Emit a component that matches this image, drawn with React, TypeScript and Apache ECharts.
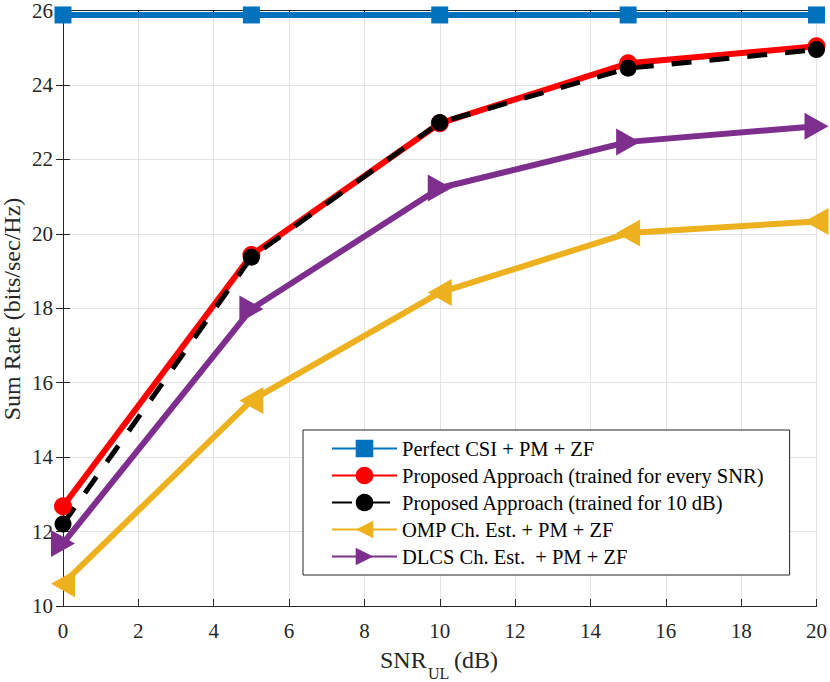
import React, { useEffect, useRef } from "react";
import * as echarts from "echarts";

const snrValues = [0, 5, 10, 15, 20];
const perfectCsi = [25.88, 25.88, 25.88, 25.88, 25.88];
const proposedEvery = [12.68, 19.43, 22.97, 24.58, 25.04];
const proposed10dB = [12.2, 19.37, 22.99, 24.45, 24.95];
const ompEst = [10.6, 15.52, 18.42, 20.02, 20.33];
const dlcsEst = [11.68, 17.98, 21.23, 22.47, 22.89];
const seriesNames = [
  "Perfect CSI + PM + ZF",
  "Proposed Approach (trained for every SNR)",
  "Proposed Approach (trained for 10 dB)",
  "OMP Ch. Est. + PM + ZF",
  "DLCS Ch. Est.  + PM + ZF",
];

const FONT = "Liberation Serif";
const AXIS_COLOR = "#262626";

function pairs(vals: number[]) {
  return snrValues.map((x, i) => [x, vals[i]]);
}

export default function App() {
  const ref = useRef<HTMLDivElement>(null);
  useEffect(() => {
    document.body.style.margin = "0";
    if (!ref.current) return;
    const chart = echarts.init(ref.current, undefined, { renderer: "svg" });
    const tickCommon = {
      axisLine: { show: true, lineStyle: { color: AXIS_COLOR, width: 1 } },
      axisTick: { show: true, inside: true, length: 7, lineStyle: { color: AXIS_COLOR } },
    };
    chart.setOption({
      animation: false,
      backgroundColor: "#ffffff",
      textStyle: { fontFamily: FONT },
      grid: { left: 63, right: 13, top: 9, bottom: 76, containLabel: false },
      xAxis: [
        {
          type: "value",
          min: 0,
          max: 20,
          interval: 2,
          ...tickCommon,
          axisLabel: { color: AXIS_COLOR, fontFamily: FONT, fontSize: 21, margin: 14 },
          splitLine: { show: true, lineStyle: { color: "#e3e3e3", width: 1 } },
        },
        {
          type: "value",
          position: "top",
          min: 0,
          max: 20,
          interval: 2,
          ...tickCommon,
          axisLabel: { show: false },
          splitLine: { show: false },
        },
      ],
      yAxis: [
        {
          type: "value",
          min: 10,
          max: 26,
          interval: 2,
          ...tickCommon,
          axisLabel: { color: AXIS_COLOR, fontFamily: FONT, fontSize: 21, margin: 10 },
          splitLine: { show: true, lineStyle: { color: "#e3e3e3", width: 1 } },
        },
        {
          type: "value",
          position: "right",
          min: 10,
          max: 26,
          interval: 2,
          ...tickCommon,
          axisLabel: { show: false },
          splitLine: { show: false },
        },
      ],
      legend: {
        orient: "vertical",
        left: 303,
        top: 430,
        backgroundColor: "#ffffff",
        borderColor: "#262626",
        borderWidth: 1,
        borderRadius: 0,
        padding: [8, 25, 8, 28],
        itemWidth: 65,
        itemHeight: 22,
        itemGap: 6,
        textStyle: { color: "#000000", fontFamily: FONT, fontSize: 20.5 },
        data: seriesNames,
      },
      graphic: [
        {
          type: "text",
          x: 12,
          y: 309,
          rotation: Math.PI / 2,
          style: {
            text: "Sum Rate (bits/sec/Hz)",
            fontFamily: FONT,
            fontSize: 24,
            fill: AXIS_COLOR,
            align: "center",
            verticalAlign: "middle",
          },
        },
        {
          type: "text",
          x: 380,
          y: 660,
          style: { text: "SNR", fontFamily: FONT, fontSize: 24, fill: AXIS_COLOR, align: "left", verticalAlign: "middle" },
        },
        {
          type: "text",
          x: 428,
          y: 673,
          style: { text: "UL", fontFamily: FONT, fontSize: 16, fill: AXIS_COLOR, align: "left", verticalAlign: "middle" },
        },
        {
          type: "text",
          x: 454,
          y: 660,
          style: { text: "(dB)", fontFamily: FONT, fontSize: 24, fill: AXIS_COLOR, align: "left", verticalAlign: "middle" },
        },
      ],
      series: [
        {
          name: seriesNames[0],
          type: "line",
          data: pairs(perfectCsi),
          symbol: "rect",
          symbolSize: 17,
          lineStyle: { color: "#0072BD", width: 6 },
          itemStyle: { color: "#0072BD" },
        },
        {
          name: seriesNames[1],
          type: "line",
          data: pairs(proposedEvery),
          symbol: "circle",
          symbolSize: 18,
          lineStyle: { color: "#FF0000", width: 6 },
          itemStyle: { color: "#FF0000" },
        },
        {
          name: seriesNames[2],
          type: "line",
          data: pairs(proposed10dB),
          symbol: "circle",
          symbolSize: 17,
          lineStyle: { color: "#000000", width: 5, type: [20, 18] },
          itemStyle: { color: "#000000" },
        },
        {
          name: seriesNames[3],
          type: "line",
          data: pairs(ompEst),
          symbol: "triangle",
          symbolRotate: 90,
          symbolSize: [27, 24],
          lineStyle: { color: "#EDB120", width: 6 },
          itemStyle: { color: "#EDB120" },
        },
        {
          name: seriesNames[4],
          type: "line",
          data: pairs(dlcsEst),
          symbol: "triangle",
          symbolRotate: -90,
          symbolSize: [27, 24],
          lineStyle: { color: "#7E2F8E", width: 6 },
          itemStyle: { color: "#7E2F8E" },
        },
      ],
    });
    return () => chart.dispose();
  }, []);
  return <div ref={ref} style={{ width: 830, height: 682 }} />;
}
